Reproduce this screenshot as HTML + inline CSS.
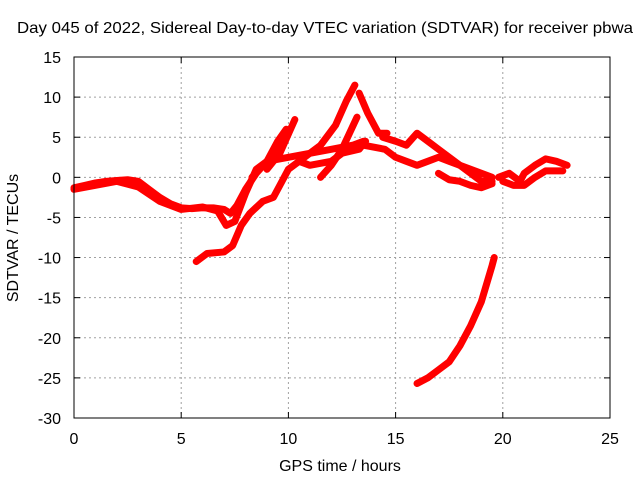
<!DOCTYPE html>
<html><head><meta charset="utf-8"><style>
html,body{margin:0;padding:0;background:#fff}
svg{display:block;font-family:"Liberation Sans",sans-serif}
</style></head><body>
<svg id="chart" width="640" height="480">
<rect width="640" height="480" fill="#fff"/>
<text x="325" y="33" font-size="16" text-anchor="middle" textLength="616" lengthAdjust="spacingAndGlyphs">Day 045 of 2022, Sidereal Day-to-day VTEC variation (SDTVAR) for receiver pbwa</text>
<text x="340" y="471" font-size="16" text-anchor="middle">GPS time / hours</text>
<text transform="translate(18,238) rotate(-90)" font-size="16" text-anchor="middle">SDTVAR / TECUs</text>
<g id="grid"></g>
<g id="ticks"></g>
<g id="series"></g>
<rect x="74" y="57" width="536" height="361" fill="none" stroke="#000"/>
</svg>
<script>
const xTicks=[0,5,10,15,20,25];
const yTicks=[15,10,5,0,-5,-10,-15,-20,-25,-30];
const sA=[[0,-1.3],[0.5,-1],[1,-0.7],[1.5,-0.5],[2,-0.4],[2.5,-0.3],[3,-0.5],[3.5,-1.5],[4,-2.5],[4.5,-3.3],[5,-3.8],[5.5,-3.9],[6,-3.8],[6.5,-3.8],[7,-4],[7.3,-4.5],[7.6,-3.5],[8,-1.5],[8.5,0.5],[9,2],[9.5,3],[9.8,5]];
const sB=[[0,-1.5],[1,-1],[2,-0.5],[3,-1.2],[4,-3],[5,-4],[6,-3.7],[6.7,-4.2],[7.1,-6],[7.5,-5.5],[8,-2],[8.5,1],[9,2],[10,2.5],[11,3],[12,3.5],[13,4],[13.5,4.5]];
const sC=[[5.7,-10.5],[6.2,-9.5],[7,-9.3],[7.4,-8.5],[7.8,-6],[8.2,-4.5],[8.8,-3],[9.3,-2.5],[9.7,-0.5],[10,1],[10.5,2],[11,1.5],[12,2],[12.5,3],[13.3,3.5],[13.6,4.5]];
const sD=[[8.3,0],[9,2],[9.5,4.5],[9.9,6]];
const sE=[[9,1],[9.6,3],[10.3,7.2]];
const sF=[[10.5,2],[11.5,4],[12.2,6.5],[12.7,9.5],[13.1,11.5]];
const sF2=[[13.3,10.5],[13.7,8],[14.2,5.5],[14.6,5.5]];
const sG=[[11.5,0],[12,1.5],[12.5,3.5],[13.2,7.5]];
const sH=[[14.4,5],[15,4.5],[15.5,4],[16,5.5],[16.5,4.5],[17,3.5],[17.5,2.5],[18,1.5],[19,0.5],[19.5,0]];
const sI=[[13.5,4],[14.5,3.5],[15,2.5],[15.5,2],[16,1.5],[16.5,2],[17,2.5],[17.5,2],[18,1.5],[18.5,0.5],[19,-0.5],[19.5,-0.5]];
const sJ=[[17,0.5],[17.5,-0.3],[18,-0.5],[18.5,-1],[19,-1.3],[19.5,-0.8]];
const sK=[[19.8,0],[20.3,0.5],[20.8,-0.5],[21,0.5],[21.5,1.5],[22,2.3],[22.5,2],[23,1.5]];
const sK2=[[20,-0.5],[20.5,-1],[21,-1],[21.5,0],[22,0.8],[22.8,0.8]];
const sL=[[16,-25.7],[16.5,-25],[17,-24],[17.5,-23],[18,-21],[18.5,-18.5],[19,-15.5],[19.5,-11],[19.6,-10]];
const allSeries=[sA,sB,sC,sD,sE,sF,sF2,sG,sH,sI,sJ,sK,sK2,sL];
const NS="http://www.w3.org/2000/svg";
const X=h=>74+h*536/25, Y=v=>57+(15-v)*361/45;
const grid=document.getElementById('grid'), ticks=document.getElementById('ticks'), ser=document.getElementById('series');
function mk(t,a,p){const e=document.createElementNS(NS,t);for(const k in a)e.setAttribute(k,a[k]);p.appendChild(e);return e;}
xTicks.forEach(t=>{const x=X(t);
 if(t>0&&t<25){const g=mk('line',{x1:x,y1:57,x2:x,y2:418,stroke:'#a0a0a0','stroke-dasharray':'2,3'},grid);
 
 }
 mk('line',{x1:x,y1:418,x2:x,y2:412,stroke:'#000'},ticks);mk('line',{x1:x,y1:57,x2:x,y2:63,stroke:'#000'},ticks);
 const l=mk('text',{x:x,y:444,'font-size':16,'text-anchor':'middle'},ticks);l.textContent=t;
 
 });
yTicks.forEach(t=>{const y=Y(t);
 if(t<15&&t>-30){const g=mk('line',{x1:74,y1:y,x2:610,y2:y,stroke:'#a0a0a0','stroke-dasharray':'2,3'},grid);
 
 }
 mk('line',{x1:74,y1:y,x2:80,y2:y,stroke:'#000'},ticks);mk('line',{x1:610,y1:y,x2:604,y2:y,stroke:'#000'},ticks);
 const l=mk('text',{x:61,y:y+6,'font-size':16,'text-anchor':'end'},ticks);l.textContent=t;
 
 });
allSeries.forEach(s=>{const p=mk('polyline',{points:s.map(d=>X(d[0])+','+Y(d[1])).join(' '),fill:'none',stroke:'#ff0000','stroke-width':7,'stroke-linejoin':'round','stroke-linecap':'round'},ser);
 
 });
</script>
</body></html>
